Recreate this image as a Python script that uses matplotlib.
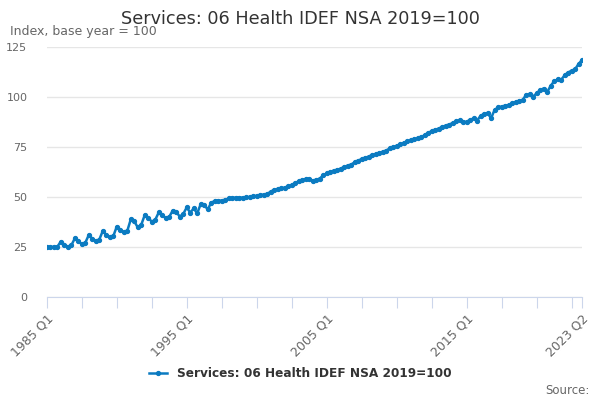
import matplotlib
matplotlib.use("Agg")
import matplotlib.pyplot as plt

# quarterly index values, 1985 Q1 .. 2023 Q2
values = [
    25.0, 25.0, 25.1, 25.1,   # 1985
    27.7, 26.2, 25.2, 25.8,   # 1986
    29.3, 27.8, 26.5, 27.1,   # 1987
    31.0, 29.2, 28.0, 28.7,   # 1988
    33.0, 31.1, 29.8, 30.4,   # 1989
    35.2, 33.6, 32.3, 33.0,   # 1990
    38.8, 37.9, 34.8, 36.1,   # 1991
    41.0, 39.6, 37.7, 38.6,   # 1992
    42.3, 41.1, 39.3, 40.1,   # 1993
    43.2, 42.6, 40.2, 41.5,   # 1994
    44.8, 42.2, 44.3, 41.8,   # 1995
    46.5, 46.0, 43.8, 47.2,   # 1996
    48.0, 48.2, 48.2, 48.6,   # 1997
    49.3, 49.6, 49.7, 49.7,   # 1998
    49.7, 49.8, 50.0, 50.3,   # 1999
    50.6, 51.0, 51.2, 51.5,   # 2000
    52.7, 53.6, 54.0, 54.3,   # 2001
    54.7, 55.3, 56.0, 57.0,   # 2002
    57.9, 58.6, 59.0, 59.1,   # 2003
    58.2, 58.6, 59.2, 60.8,   # 2004
    61.8, 62.5, 63.2, 63.6,   # 2005
    64.2, 65.0, 65.7, 66.2,   # 2006
    67.4, 68.2, 69.0, 69.6,   # 2007
    70.2, 71.0, 71.5, 72.0,   # 2008
    72.6, 73.2, 74.3, 74.9,   # 2009
    75.6, 76.3, 77.0, 77.8,   # 2010
    78.3, 78.8, 79.3, 79.8,   # 2011
    81.0, 82.0, 83.0, 83.6,   # 2012
    84.2, 85.0, 85.7, 86.2,   # 2013
    87.0, 87.8, 88.4, 87.5,   # 2014
    87.6, 88.6, 89.3, 88.2,   # 2015
    90.6, 91.5, 92.0, 89.4,   # 2016
    93.5, 94.8, 95.2, 95.6,   # 2017
    96.0, 96.8, 97.5, 98.0,   # 2018
    98.5, 101.0, 101.5, 100.2,  # 2019
    101.8, 103.5, 104.2, 102.3,  # 2020
    105.5, 107.8, 108.8, 108.5,  # 2021
    110.8, 112.2, 113.2, 113.8,  # 2022
    116.5, 118.5,               # 2023
]

labels = []
for year in range(1985, 2024):
    for q in range(1, 5):
        labels.append(f"{year} Q{q}")
labels = labels[:len(values)]

series_name = "Services: 06 Health IDEF NSA 2019=100"
blue = "#0b7bc1"

fig = plt.figure(figsize=(6, 4), dpi=100)
ax = fig.add_axes([0.078, 0.2575, 0.892, 0.625])

x = list(range(len(values)))
ax.plot(x, values, color=blue, linewidth=1.8, marker="o", markersize=2.8,
        label=series_name)

ax.set_xlim(0, len(values) - 1)
ax.set_ylim(0, 125)
ax.set_yticks([0, 25, 50, 75, 100, 125])
ax.grid(axis="y", color="#e6e6e6", linewidth=1)
ax.set_axisbelow(True)

tick_pos = list(range(0, len(values) - 1, 10)) + [len(values) - 1]
ax.set_xticks(tick_pos)
tick_labels = []
for p in tick_pos:
    if p % 40 == 0 or p == len(values) - 1:
        tick_labels.append(labels[p])
    else:
        tick_labels.append("")
ax.set_xticklabels(tick_labels, rotation=45, ha="right", rotation_mode="anchor",
                   fontsize=9, color="#666666")
ax.tick_params(axis="x", length=8, color="#ccd6eb", pad=3)
ax.tick_params(axis="y", length=0, labelsize=8, labelcolor="#666666", pad=14)

for s in ["top", "right", "left"]:
    ax.spines[s].set_visible(False)
ax.spines["bottom"].set_color("#ccd6eb")

fig.text(0.5, 0.953, series_name, ha="center", va="center", fontsize=12.7,
         color="#333333")
fig.text(0.017, 0.92, "Index, base year = 100", ha="left", va="center",
         fontsize=9, color="#666666")
fig.text(0.982, 0.025, "Source:", ha="right", va="center", fontsize=8.5,
         color="#666666")

leg = fig.legend(loc="center", bbox_to_anchor=(0.5, 0.066), frameon=False,
                 handlelength=1.5, prop={"weight": "bold", "size": 8.7})
for t in leg.get_texts():
    t.set_color("#333333")

fig.savefig("out.png", dpi=100)
